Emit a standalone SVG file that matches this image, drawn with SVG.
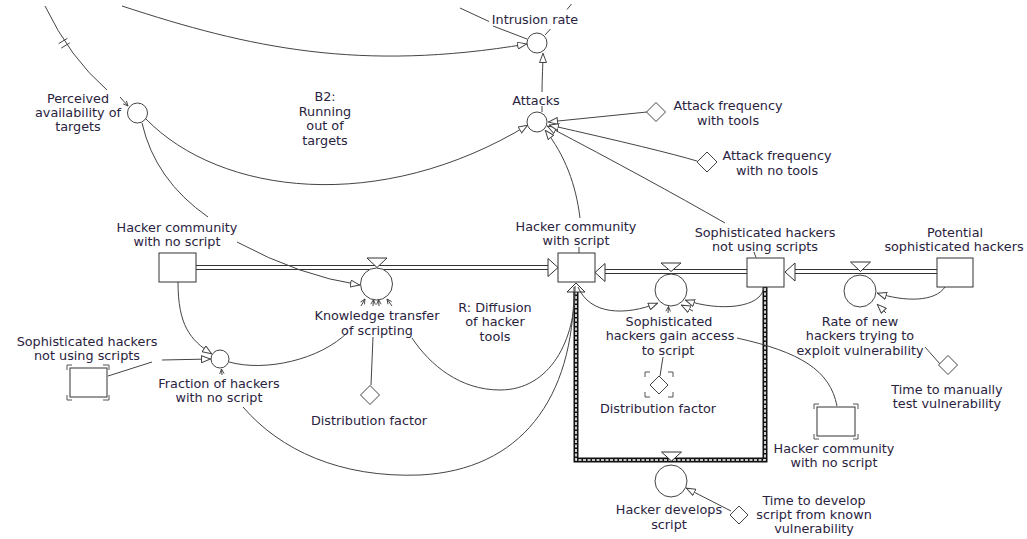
<svg xmlns="http://www.w3.org/2000/svg" width="1027" height="539" viewBox="0 0 1027 539">
  <style>
    text { font-family: "DejaVu Sans", Verdana, sans-serif; font-size: 12.8px; fill: #2a2340; text-anchor: middle; }
    .aux { fill: #fff; stroke: #444; stroke-width: 1; }
    .stock { fill: #fff; stroke: #333; stroke-width: 1; }
    .link { fill: none; stroke: #444; stroke-width: 1; }
    .pipe { fill: none; stroke: #333; stroke-width: 1; }
    .head { fill: #fff; stroke: #333; stroke-width: 1; }
    .ghost { fill: none; stroke: #555; stroke-width: 1; }
  </style>
  <defs>
    <marker id="hollow" viewBox="0 0 10 8" refX="10" refY="4" markerWidth="10" markerHeight="8" markerUnits="userSpaceOnUse" orient="auto">
      <path d="M0.5,0.5 L9.5,4 L0.5,7.5 Z" fill="#fff" stroke="#444" stroke-width="1"/>
    </marker>
    <marker id="tick" viewBox="0 0 8 8" refX="7.5" refY="4" markerWidth="6" markerHeight="6" markerUnits="userSpaceOnUse" orient="auto">
      <path d="M1,1 L7.5,4 L1,7" fill="none" stroke="#444" stroke-width="1.2"/>
    </marker>
  </defs>

  <rect x="0" y="0" width="1027" height="539" fill="#fff"/>

  <g id="connectors">
    <!-- material flows (double-line pipes) -->
    <g id="pipes">
      <path class="pipe" d="M196,265.5 H549 M196,269.5 H549"/>
      <polygon class="head" points="548,258.5 558,267.5 548,276.5"/>
      <path class="pipe" d="M604,269.5 H747 M604,273.5 H747"/>
      <polygon class="head" points="605,263.5 595,272.5 605,281.5"/>
      <path class="pipe" d="M794,269.5 H937 M794,273.5 H937"/>
      <polygon class="head" points="795,263 785,272 795,281"/>
      <!-- script development flow, drawn as a hatched pipe -->
      <path d="M765,287 V460 H576 V292" fill="none" stroke="#111" stroke-width="5" stroke-linejoin="miter"/>
      <path d="M765,288 V460 H576 V292" fill="none" stroke="#fff" stroke-width="1.6" stroke-dasharray="3 1.5"/>
      <polygon class="head" points="576,283 567,292 585,292"/>
    </g>

    <!-- information links -->
    <g id="links">
      <path class="link" d="M122,6 C250,48 360,72 527,44" marker-end="url(#hollow)"/>
      <path class="link" d="M460,8 L489,21.5 M493,26 L527,39"/>
      <path class="link" d="M571.5,4 L567,9.5 M550.5,29 L545,35"/>
      <path class="link" d="M542,112 L542,106"/>
      <path class="link" d="M542,92 C542,78 543,65 543,53" marker-end="url(#hollow)"/>
      <path class="link" d="M146,119 C220,195 380,215 528,125" marker-end="url(#hollow)"/>
      <!-- delayed perception link with delay marks -->
      <path class="link" d="M45,6 Q70,58 107,90"/>
      <path class="link" d="M58.7,43.6 L67.3,38.4 M61.2,48.1 L69.8,42.9"/>
      <path class="link" d="M120,97 L128,106" marker-end="url(#tick)"/>
      <path class="link" d="M142,123 Q155,180 208,217"/>
      <path class="link" d="M237,242 Q300,276 360,285" marker-end="url(#hollow)"/>
      <path class="link" d="M178,282 C178,325 190,340 212,354" marker-end="url(#hollow)"/>
      <path class="link" d="M108,376 L152,362"/>
      <path class="link" d="M162,360 L211,359" marker-end="url(#hollow)"/>
      <path class="link" d="M229,362 C265,372 320,360 348,332"/>
      <path class="link" d="M361,306 L365,299" marker-end="url(#tick)"/>
      <path class="link" d="M371,385 L373,337"/>
      <path class="link" d="M373,306 L373.5,299.5" marker-end="url(#tick)"/>
      <path class="link" d="M379,306 L378.5,299.5" marker-end="url(#tick)"/>
      <path class="link" d="M575,286 C576,340 550,390 500,390 C460,390 430,365 412,338"/>
      <path class="link" d="M392,306 L387,299" marker-end="url(#tick)"/>
      <path class="link" d="M574,287 C574,400 520,470 420,475 C340,478 280,450 243,407"/>
      <path class="link" d="M222,375 L221.5,369" marker-end="url(#tick)"/>
      <path class="link" d="M580,218 C576,185 565,155 545,130" marker-end="url(#hollow)"/>
      <path class="link" d="M579,247 L579,253"/>
      <path class="link" d="M725,223 Q650,180 547,126" marker-end="url(#hollow)"/>
      <path class="link" d="M754,252 L756,257.5"/>
      <path class="link" d="M647,112 L548,122" marker-end="url(#hollow)"/>
      <path class="link" d="M697,161 Q660,150 549,125" marker-end="url(#hollow)"/>
      <path class="link" d="M764,287 C762,308 720,312 685,300" marker-end="url(#hollow)"/>
      <path class="link" d="M578,287 C590,315 625,316 658,303" marker-end="url(#hollow)"/>
      <path class="link" d="M660,376 L663,357"/>
      <path class="link" d="M668,313 L668.5,306.5" marker-end="url(#tick)"/>
      <path class="link" d="M837,406 C830,370 800,352 737,338"/>
      <path class="link" d="M693,311 L681,305" marker-end="url(#hollow)"/>
      <path class="link" d="M940,364 L925,347"/>
      <path class="link" d="M886,313 L877,304" marker-end="url(#hollow)"/>
      <path class="link" d="M945,287 C935,302 905,302 877,293" marker-end="url(#hollow)"/>
      <path class="link" d="M731,511 L686,488" marker-end="url(#hollow)"/>
    </g>
  </g>

  <g id="intrusion-rate">
    <circle class="aux" cx="537" cy="43" r="10"/>
    <text x="535" y="24">Intrusion rate</text>
  </g>

  <g id="attacks">
    <circle class="aux" cx="537" cy="122" r="10"/>
    <text x="536" y="105">Attacks</text>
  </g>

  <g id="perceived-availability">
    <circle class="aux" cx="137.5" cy="113" r="10"/>
    <text x="78" y="103">Perceived</text>
    <text x="78" y="117">availability of</text>
    <text x="78" y="131">targets</text>
  </g>

  <g id="loop-b2">
    <text x="325" y="101">B2:</text>
    <text x="325" y="115.5">Running</text>
    <text x="325" y="130">out of</text>
    <text x="325" y="144.5">targets</text>
  </g>

  <g id="attack-frequency-tools">
    <polygon class="aux" points="656,102.5 665.5,112 656,121.5 646.5,112"/>
    <text x="728" y="110">Attack frequency</text>
    <text x="728" y="124.5">with tools</text>
  </g>

  <g id="attack-frequency-no-tools">
    <polygon class="aux" points="707,152 717,162 707,172 697,162"/>
    <text x="777" y="160">Attack frequency</text>
    <text x="777" y="174.5">with no tools</text>
  </g>

  <g id="hacker-community-no-script">
    <rect class="stock" x="159" y="253" width="37" height="29"/>
    <text x="177" y="231.5">Hacker community</text>
    <text x="177" y="245.5">with no script</text>
  </g>

  <g id="hacker-community-script">
    <rect class="stock" x="558" y="253" width="37" height="29"/>
    <text x="576" y="230.5">Hacker community</text>
    <text x="576" y="244.5">with script</text>
  </g>

  <g id="sophisticated-not-using">
    <rect class="stock" x="747" y="258" width="37" height="29"/>
    <text x="765" y="236.5">Sophisticated hackers</text>
    <text x="765" y="251">not using scripts</text>
  </g>

  <g id="potential-sophisticated">
    <rect class="stock" x="937" y="258" width="36" height="29"/>
    <text x="955" y="237">Potential</text>
    <text x="954" y="251">sophisticated hackers</text>
  </g>

  <g id="knowledge-transfer">
    <polygon class="head" points="367,258 387,258 377,267.5"/>
    <circle class="aux" cx="376.5" cy="284" r="16"/>
    <text x="377" y="320">Knowledge transfer</text>
    <text x="377" y="334.5">of scripting</text>
  </g>

  <g id="loop-r">
    <text x="495" y="311.5">R: Diffusion</text>
    <text x="495" y="326">of hacker</text>
    <text x="495" y="341">tools</text>
  </g>

  <g id="fraction-no-script">
    <circle class="aux" cx="220" cy="359" r="9"/>
    <text x="219" y="388">Fraction of hackers</text>
    <text x="219" y="402">with no script</text>
  </g>

  <g id="sophisticated-not-using-shadow">
    <rect class="stock" x="70" y="368" width="37" height="29"/>
    <path class="ghost" d="M67,370 V365 H72 M103,365 H109 V370 M109,395 V400 H103 M72,400 H67 V395"/>
    <text x="87" y="345.5">Sophisticated hackers</text>
    <text x="87" y="360">not using scripts</text>
  </g>

  <g id="distribution-factor-1">
    <polygon class="aux" points="370,385.5 379.5,395 370,404.5 360.5,395"/>
    <text x="369" y="425">Distribution factor</text>
  </g>

  <g id="sophisticated-gain-access">
    <polygon class="head" points="661,263 681,263 671,271.5"/>
    <circle class="aux" cx="671" cy="290" r="16"/>
    <text x="669" y="325.5">Sophisticated</text>
    <text x="670" y="340">hackers gain access</text>
    <text x="668" y="354.5">to script</text>
  </g>

  <g id="distribution-factor-2">
    <polygon class="aux" points="659,376 668,385 659,394 650,385"/>
    <path class="ghost" d="M645,377 V372 H650 M668,372 H673 V377 M673,392 V397 H668 M650,397 H645 V392"/>
    <text x="658" y="413">Distribution factor</text>
  </g>

  <g id="rate-new-hackers">
    <polygon class="head" points="850.5,262 870.5,262 860.5,271.5"/>
    <circle class="aux" cx="860" cy="291" r="16"/>
    <text x="860" y="325.5">Rate of new</text>
    <text x="860" y="340">hackers trying to</text>
    <text x="860" y="354.5">exploit vulnerability</text>
  </g>

  <g id="time-manual-test">
    <polygon class="aux" points="948,355.5 957.5,365 948,374.5 938.5,365"/>
    <text x="947" y="393.5">Time to manually</text>
    <text x="947" y="408">test vulnerability</text>
  </g>

  <g id="hacker-community-no-script-shadow">
    <rect class="stock" x="817" y="407" width="38" height="29"/>
    <path class="ghost" d="M814,409 V404 H819 M853,404 H858 V409 M858,434 V439 H853 M819,439 H814 V434"/>
    <text x="834" y="452.5">Hacker community</text>
    <text x="834" y="467">with no script</text>
  </g>

  <g id="hacker-develops-script">
    <polygon class="head" points="661.5,452 681.5,452 671.5,461"/>
    <circle class="aux" cx="671" cy="481" r="16"/>
    <text x="669" y="514">Hacker develops</text>
    <text x="669" y="528.5">script</text>
  </g>

  <g id="time-develop-script">
    <polygon class="aux" points="739,506 748,515 739,524 730,515"/>
    <text x="814" y="504.5">Time to develop</text>
    <text x="814" y="519">script from known</text>
    <text x="814" y="533">vulnerability</text>
  </g>
</svg>
